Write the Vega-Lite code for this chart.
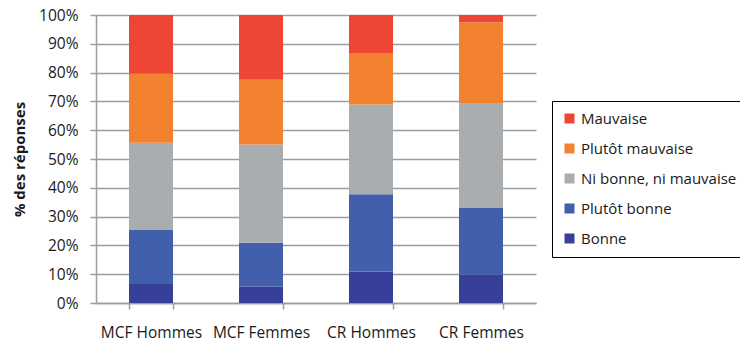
{
  "$schema": "https://vega.github.io/schema/vega-lite/v6.json",
  "width": 440,
  "height": 288,
  "autosize": {"type": "none"},
  "padding": {"left": 96, "top": 15, "right": 204, "bottom": 38},
  "background": "white",
  "config": {
    "view": {"stroke": null},
    "font": "Open Sans"
  },
  "data": {
    "values": [
      {"groupe": "MCF Hommes", "reponse": "Bonne", "rang": 1, "pct": 6.6},
      {"groupe": "MCF Hommes", "reponse": "Plutôt bonne", "rang": 2, "pct": 18.9},
      {"groupe": "MCF Hommes", "reponse": "Ni bonne, ni mauvaise", "rang": 3, "pct": 30.1},
      {"groupe": "MCF Hommes", "reponse": "Plutôt mauvaise", "rang": 4, "pct": 24.1},
      {"groupe": "MCF Hommes", "reponse": "Mauvaise", "rang": 5, "pct": 20.3},
      {"groupe": "MCF Femmes", "reponse": "Bonne", "rang": 1, "pct": 5.7},
      {"groupe": "MCF Femmes", "reponse": "Plutôt bonne", "rang": 2, "pct": 15.2},
      {"groupe": "MCF Femmes", "reponse": "Ni bonne, ni mauvaise", "rang": 3, "pct": 34.1},
      {"groupe": "MCF Femmes", "reponse": "Plutôt mauvaise", "rang": 4, "pct": 22.5},
      {"groupe": "MCF Femmes", "reponse": "Mauvaise", "rang": 5, "pct": 22.5},
      {"groupe": "CR Hommes", "reponse": "Bonne", "rang": 1, "pct": 10.9},
      {"groupe": "CR Hommes", "reponse": "Plutôt bonne", "rang": 2, "pct": 26.9},
      {"groupe": "CR Hommes", "reponse": "Ni bonne, ni mauvaise", "rang": 3, "pct": 31.1},
      {"groupe": "CR Hommes", "reponse": "Plutôt mauvaise", "rang": 4, "pct": 17.9},
      {"groupe": "CR Hommes", "reponse": "Mauvaise", "rang": 5, "pct": 13.2},
      {"groupe": "CR Femmes", "reponse": "Bonne", "rang": 1, "pct": 9.9},
      {"groupe": "CR Femmes", "reponse": "Plutôt bonne", "rang": 2, "pct": 23.3},
      {"groupe": "CR Femmes", "reponse": "Ni bonne, ni mauvaise", "rang": 3, "pct": 36.0},
      {"groupe": "CR Femmes", "reponse": "Plutôt mauvaise", "rang": 4, "pct": 28.3},
      {"groupe": "CR Femmes", "reponse": "Mauvaise", "rang": 5, "pct": 2.5}
    ]
  },
  "mark": {"type": "bar"},
  "encoding": {
    "x": {
      "field": "groupe",
      "type": "nominal",
      "sort": ["MCF Hommes", "MCF Femmes", "CR Hommes", "CR Femmes"],
      "scale": {"paddingInner": 0.6, "paddingOuter": 0.3},
      "axis": {
        "title": null,
        "labelAngle": 0,
        "labelFontSize": 15.5,
        "labelColor": "#1a1a1a",
        "labelPadding": 16,
        "labelOverlap": false,
        "tickBand": "extent",
        "tickSize": 6,
        "tickColor": "#9c9da1",
        "tickWidth": 1.5,
        "domainColor": "#9c9da1",
        "domainWidth": 1.5,
        "grid": false
      }
    },
    "y": {
      "field": "pct",
      "type": "quantitative",
      "stack": "normalize",
      "scale": {"domain": [0, 1], "nice": false},
      "axis": {
        "title": "% des réponses",
        "titleFontSize": 15,
        "titleFontWeight": "bold",
        "titleColor": "#1a1a1a",
        "titlePadding": 11,
        "format": ".0%",
        "values": [0, 0.1, 0.2, 0.3, 0.4, 0.5, 0.6, 0.7, 0.8, 0.9, 1],
        "labelOverlap": false,
        "labelFontSize": 15.5,
        "labelColor": "#1a1a1a",
        "labelPadding": 12,
        "tickSize": 6,
        "tickColor": "#9c9da1",
        "tickWidth": 1.5,
        "domainColor": "#9c9da1",
        "domainWidth": 1.5,
        "grid": true,
        "gridColor": "#9c9da1",
        "gridWidth": 1.5
      }
    },
    "color": {
      "field": "reponse",
      "type": "nominal",
      "scale": {
        "domain": ["Mauvaise", "Plutôt mauvaise", "Ni bonne, ni mauvaise", "Plutôt bonne", "Bonne"],
        "range": ["#ee4534", "#f2822f", "#aaadb0", "#415fab", "#373f99"]
      },
      "legend": {
        "title": null,
        "orient": "none",
        "legendX": 456,
        "legendY": 86,
        "symbolType": "square",
        "symbolSize": 100,
        "symbolStrokeWidth": 0,
        "labelFontSize": 15,
        "labelColor": "#1a1a1a",
        "labelOffset": 4,
        "rowPadding": 14,
        "padding": 10,
        "strokeColor": "#000000",
        "labelLimit": 300
      }
    },
    "order": {"field": "rang", "type": "quantitative"}
  }
}
